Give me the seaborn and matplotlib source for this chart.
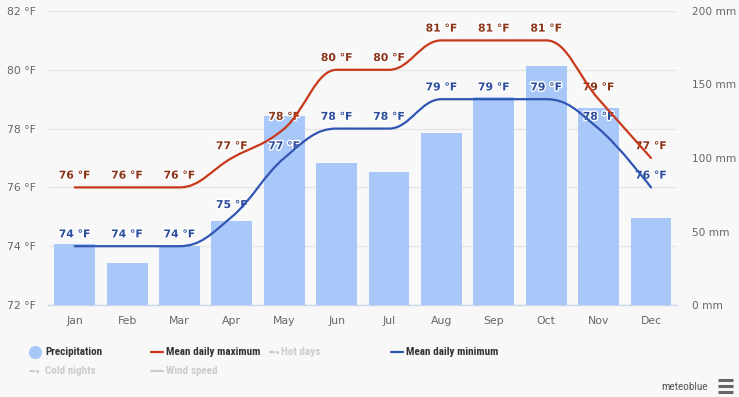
import matplotlib
matplotlib.use('Agg')
import matplotlib.pyplot as plt
import matplotlib.patheffects as pe
from matplotlib.path import Path
from matplotlib.patches import PathPatch
from matplotlib.lines import Line2D
from matplotlib import font_manager
import seaborn as sns

# Data
months = ['Jan', 'Feb', 'Mar', 'Apr', 'May', 'Jun', 'Jul', 'Aug', 'Sep', 'Oct', 'Nov', 'Dec']
temp_max = [76, 76, 76, 77, 78, 80, 80, 81, 81, 81, 79, 77]
temp_min = [74, 74, 74, 75, 77, 78, 78, 79, 79, 79, 78, 76]
precip = [41.5, 28.6, 40.3, 57.4, 128.6, 96.6, 90.5, 117, 141.3, 162.6, 134, 59.2]
temp_ticks = [72, 74, 76, 78, 80, 82]
precip_ticks = [0, 50, 100, 150, 200]

BG = '#f8f8f8'
BAR = '#a9c8fa'
RED = '#c8391b'
BLUE = '#2f56b3'
RED_TXT = '#8a3418'
BLUE_TXT = '#2c4c9c'

sns.set_theme(style='white')
plt.rcParams['font.family'] = ['DejaVu Sans']

# narrow font for the legend, if one is there
names = {f.name for f in font_manager.fontManager.ttflist}
narrow = None
for cand in ['Liberation Sans Narrow', 'Roboto Condensed', 'Open Sans Condensed', 'DejaVu Sans Condensed']:
    if cand in names:
        narrow = cand
        break
if narrow:
    leg_family, leg_size = narrow, 8
else:
    leg_family, leg_size = 'Liberation Sans', 7.4


def spline_path(xs, ys, smoothing=1.5):
    # bezier path, same smoothing rule as a highcharts spline
    pts = list(zip(xs, ys))
    verts = [pts[0]]
    codes = [Path.MOVETO]
    right = {}
    n = len(pts)
    for i in range(1, n):
        px, py = pts[i]
        lx, ly = pts[i - 1]
        lcx, lcy = px, py
        if i < n - 1:
            nx, ny = pts[i + 1]
            d = smoothing + 1
            lcx = (smoothing * px + lx) / d
            lcy = (smoothing * py + ly) / d
            rcx = (smoothing * px + nx) / d
            rcy = (smoothing * py + ny) / d
            corr = ((rcy - lcy) * (rcx - px)) / (rcx - lcx) + py - rcy
            lcy += corr
            rcy += corr
            if lcy > ly and lcy > py:
                lcy = max(ly, py); rcy = 2 * py - lcy
            elif lcy < ly and lcy < py:
                lcy = min(ly, py); rcy = 2 * py - lcy
            if rcy > ny and rcy > py:
                rcy = max(ny, py); lcy = 2 * py - rcy
            elif rcy < ny and rcy < py:
                rcy = min(ny, py); lcy = 2 * py - rcy
            right[i] = (rcx, rcy)
        c1 = right.get(i - 1, (lx, ly))
        verts += [c1, (lcx, lcy), (px, py)]
        codes += [Path.CURVE4] * 3
    return Path(verts, codes)


fig = plt.figure(figsize=(7.39, 3.97), dpi=100, facecolor=BG)
ax = fig.add_axes([48.5 / 739, 92 / 397, 628.7 / 739, 294 / 397])
ax.set_facecolor(BG)
ax2 = ax.twinx()
ax3 = ax.twinx()

# Precipitation bars (right axis)
sns.barplot(x=months, y=precip, color=BAR, saturation=1, width=0.78, linewidth=0, ax=ax2)

# Temperature axis with grid
ax.set_xlim(-0.5, 11.5)
ax.set_ylim(72, 82)
ax.set_yticks(temp_ticks)
ax.set_yticklabels([f'{t} °F' for t in temp_ticks])
ax.grid(axis='y', color='#e6e6e6', linewidth=1)
ax.grid(axis='x', visible=False)
ax.tick_params(axis='y', length=0, pad=9, labelsize=7.8, labelcolor='#666666')
ax.set_xticks(range(len(months)))
ax.set_xticklabels(months)
ax.tick_params(axis='x', length=0, pad=8, labelsize=7.8, labelcolor='#666666')
for s in ['top', 'left', 'right']:
    ax.spines[s].set_visible(False)
ax.spines['bottom'].set_color('#ccd6eb')
ax.spines['bottom'].set_linewidth(1)

ax2.set_ylim(0, 200)
ax2.set_xlim(-0.5, 11.5)
ax2.set_yticks(precip_ticks)
ax2.set_yticklabels([f'{p} mm' for p in precip_ticks])
ax2.tick_params(axis='y', length=0, pad=11, labelsize=7.6, labelcolor='#666666')
ax2.set_ylabel('')
ax2.grid(False)
for s in ax2.spines.values():
    s.set_visible(False)

# Temperature lines (top layer)
ax3.set_ylim(72, 82)
ax3.set_xlim(-0.5, 11.5)
ax3.set_yticks([])
ax3.grid(False)
for s in ax3.spines.values():
    s.set_visible(False)

xs = list(range(len(months)))
for vals, col, tcol in [(temp_max, RED, RED_TXT), (temp_min, BLUE, BLUE_TXT)]:
    ax3.add_patch(PathPatch(spline_path(xs, vals), facecolor='none', edgecolor=col,
                            linewidth=1.6, zorder=3, capstyle='round'))
    for x, v in zip(xs, vals):
        ax3.annotate(f'{v} °F', (x, v), xytext=(0, 8.5), textcoords='offset points',
                     ha='center', va='center', fontsize=7.8, fontweight='bold', color=tcol,
                     zorder=2,
                     path_effects=[pe.withStroke(linewidth=2, foreground='white')])

# Legend
H, W = 397, 739


def fx(px):
    return px / W


def fy(py):
    return 1 - py / H


def leg_text(x, y, s, color):
    fig.text(fx(x), fy(y), s, family=leg_family, fontsize=leg_size,
             fontweight='bold', color=color, ha='left', va='center')


fig.add_artist(Line2D([fx(35)], [fy(352)], marker='o', markersize=8.5, color=BAR,
                      linestyle='none'))
leg_text(45, 352, 'Precipitation', '#333333')
fig.add_artist(Line2D([fx(151), fx(163)], [fy(352), fy(352)], color=RED, linewidth=1.6))
leg_text(166, 352, 'Mean daily maximum', '#333333')
fig.add_artist(Line2D([fx(270), fx(274)], [fy(352), fy(352)], color='#cccccc', linewidth=1.6))
fig.add_artist(Line2D([fx(277)], [fy(352)], marker='o', markersize=1.3, color='#cccccc'))
leg_text(281, 352, 'Hot days', '#cccccc')
fig.add_artist(Line2D([fx(391), fx(403)], [fy(352), fy(352)], color=BLUE, linewidth=1.6))
leg_text(406, 352, 'Mean daily minimum', '#333333')
fig.add_artist(Line2D([fx(30), fx(34)], [fy(371), fy(371)], color='#cccccc', linewidth=1.6))
fig.add_artist(Line2D([fx(37)], [fy(371)], marker='o', markersize=1.3, color='#cccccc'))
leg_text(45, 371, 'Cold nights', '#cccccc')
fig.add_artist(Line2D([fx(151), fx(163)], [fy(371), fy(371)], color='#cccccc', linewidth=1.6))
leg_text(166, 371, 'Wind speed', '#cccccc')

# credit + menu icon
fig.text(fx(708), fy(387), 'meteoblue', family=leg_family, fontsize=leg_size,
         color='#555555', ha='right', va='center')
for yy in [380, 386, 392]:
    fig.add_artist(Line2D([fx(718), fx(733)], [fy(yy), fy(yy)], color='#666666',
                          linewidth=2.2, solid_capstyle='butt'))

fig.savefig('out.png', dpi=100, facecolor=BG)
